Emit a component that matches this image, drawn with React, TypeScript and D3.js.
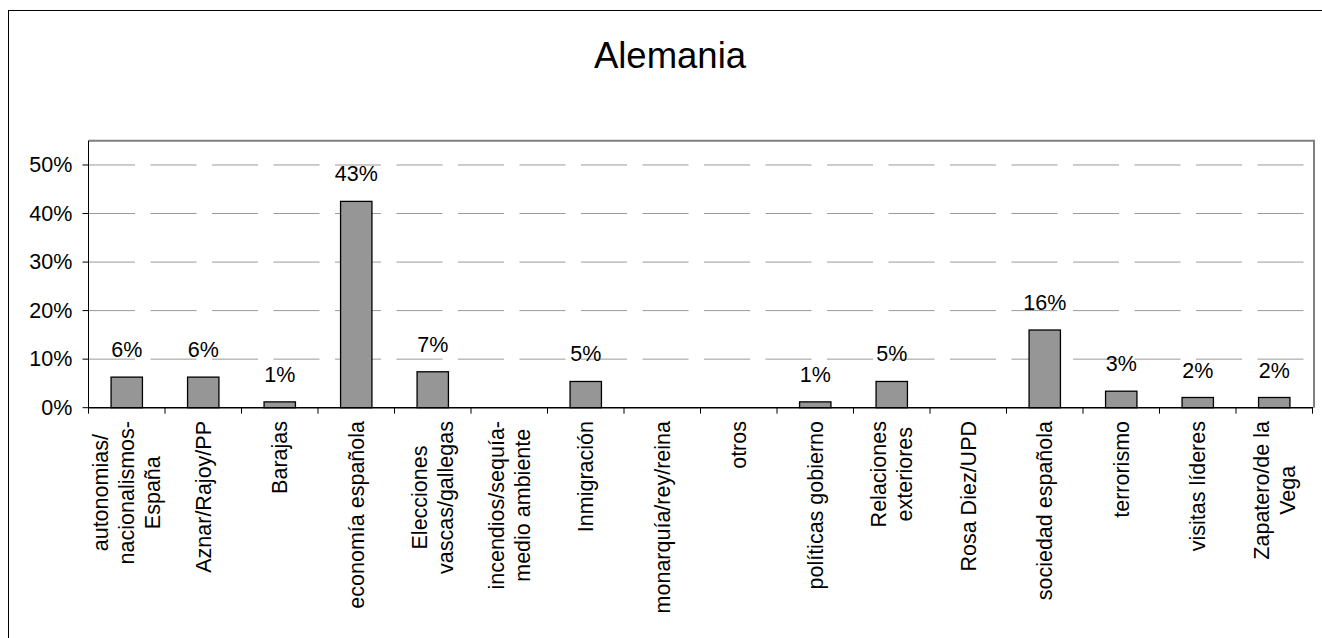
import React, { useEffect, useRef } from "react";
import * as d3 from "d3";

const categories: string[][] = [
  ["autonomias/", "nacionalismos-", "España"],
  ["Aznar/Rajoy/PP"],
  ["Barajas"],
  ["economía española"],
  ["Elecciones", "vascas/gallegas"],
  ["incendios/sequía-", "medio ambiente"],
  ["Inmigración"],
  ["monarquía/rey/reina"],
  ["otros"],
  ["políticas gobierno"],
  ["Relaciones", "exteriores"],
  ["Rosa Diez/UPD"],
  ["sociedad española"],
  ["terrorismo"],
  ["visitas líderes"],
  ["Zapatero/de la", "Vega"],
];

const values: number[] = [6.3, 6.3, 1.2, 42.5, 7.4, 0, 5.4, 0, 0, 1.2, 5.4, 0, 16.0, 3.4, 2.1, 2.1];

const yTicks: number[] = [0, 10, 20, 30, 40, 50];

const title = "Alemania";

const FONT = "'Liberation Sans', Arial, sans-serif";

export default function App() {
  const ref = useRef<SVGSVGElement | null>(null);

  useEffect(() => {
    const svg = d3.select(ref.current);
    svg.selectAll("*").remove();

    const W = 1322, H = 638;
    const left = 88.5, right = 1312.5, top = 140.7, bottom = 407.7;

    // outer border
    svg.append("rect").attr("x", 8.5).attr("y", 10.5).attr("width", 1330).attr("height", 650)
      .attr("fill", "#fff").attr("stroke", "#000").attr("stroke-width", 1);

    svg.append("text").attr("x", 670).attr("y", 67.5).attr("text-anchor", "middle")
      .attr("font-family", FONT).attr("font-size", 36.5).attr("fill", "#000").text(title);

    const keys = categories.map((_, i) => String(i));
    const x = d3.scaleBand<string>().domain(keys).range([left, right]).paddingInner(0.59).paddingOuter(0.295);
    const y = d3.scaleLinear().domain([0, 55]).range([bottom, top]);

    // plot border top/right (grey)
    svg.append("path").attr("d", `M${left},${top}H${1314}V${bottom}`).attr("fill", "none")
      .attr("stroke", "#808080").attr("stroke-width", 2);

    // gridlines
    svg.append("g").selectAll("line").data(yTicks.filter(t => t > 0)).join("line")
      .attr("x1", left + 0.5).attr("x2", 1313).attr("y1", d => y(d)).attr("y2", d => y(d))
      .attr("stroke", "#9a9a9a").attr("stroke-width", 1).attr("stroke-dasharray", "46,15.5");

    // bars
    svg.append("g").selectAll("rect").data(values.map((v, i) => ({ v, i })).filter(d => d.v > 0)).join("rect")
      .attr("x", d => x(String(d.i))!).attr("width", x.bandwidth())
      .attr("y", d => y(d.v)).attr("height", d => bottom - y(d.v))
      .attr("fill", "#969696").attr("stroke", "#000").attr("stroke-width", 1.3);

    // data labels
    svg.append("g").selectAll("text").data(values.map((v, i) => ({ v, i })).filter(d => d.v > 0)).join("text")
      .attr("x", d => x(String(d.i))! + x.bandwidth() / 2).attr("y", d => y(d.v) - 20)
      .attr("text-anchor", "middle").attr("font-family", FONT).attr("font-size", 21.5).attr("fill", "#000")
      .text(d => `${Math.round(d.v)}%`);

    // y axis
    svg.append("line").attr("x1", left).attr("x2", left).attr("y1", top).attr("y2", bottom)
      .attr("stroke", "#000").attr("stroke-width", 1);
    const yg = svg.append("g");
    yg.selectAll("line").data(yTicks).join("line")
      .attr("x1", left - 6).attr("x2", left).attr("y1", d => y(d)).attr("y2", d => y(d))
      .attr("stroke", "#000").attr("stroke-width", 1);
    yg.selectAll("text").data(yTicks).join("text")
      .attr("x", 72.3).attr("y", d => y(d) + 7.3).attr("text-anchor", "end")
      .attr("font-family", FONT).attr("font-size", 21.5).attr("fill", "#000")
      .text(d => `${d}%`);

    // x axis
    svg.append("line").attr("x1", left).attr("x2", 1313).attr("y1", bottom).attr("y2", bottom)
      .attr("stroke", "#000").attr("stroke-width", 1.5);
    const step = x.step();
    const bounds = d3.range(categories.length + 1).map(i => left + i * step);
    svg.append("g").selectAll("line").data(bounds).join("line")
      .attr("x1", d => d).attr("x2", d => d).attr("y1", bottom).attr("y2", bottom + 6)
      .attr("stroke", "#000").attr("stroke-width", 1);

    // category labels (rotated, lines centered, block ends at yTop)
    const yTop = 421;
    const lineH = 26;
    categories.forEach((lines, i) => {
      const cx = left + (i + 0.5) * step;
      const g = svg.append("g").attr("transform", `translate(${cx},${yTop}) rotate(-90)`);
      const texts = lines.map((ln, k) =>
        g.append("text").attr("font-family", FONT).attr("font-size", 21.5).attr("fill", "#000")
          .attr("text-anchor", "middle")
          .attr("y", 7.3 + (k - (lines.length - 1) / 2) * lineH).text(ln)
      );
      const maxLen = d3.max(texts, t => (t.node() as SVGTextElement).getComputedTextLength()) || 0;
      texts.forEach(t => t.attr("x", -maxLen / 2));
    });
  }, []);

  return (
    <svg ref={ref} width={1322} height={638}
      style={{ position: "absolute", left: 0, top: 0, background: "#fff" }} />
  );
}
